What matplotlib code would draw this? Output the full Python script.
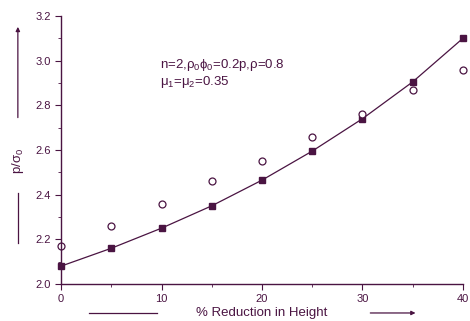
import matplotlib
matplotlib.use("Agg")
import matplotlib.pyplot as plt
from matplotlib.ticker import MultipleLocator

# data
reduction = [0, 5, 10, 15, 20, 25, 30, 35, 40]
theory = [2.08, 2.16, 2.25, 2.35, 2.465, 2.595, 2.74, 2.905, 3.10]
experiment = [2.17, 2.26, 2.36, 2.46, 2.55, 2.66, 2.76, 2.87, 2.96]

col = "#4a1442"
plt.rcParams["font.family"] = ["Liberation Sans", "DejaVu Sans"]
plt.rcParams["mathtext.default"] = "regular"

fig = plt.figure(figsize=(4.7, 3.21), dpi=100)
ax = fig.add_axes([0.13, 0.1153, 0.855, 0.835])

ax.plot(reduction, theory, "-", color=col, lw=0.9)
ax.plot(reduction, theory, "s", color=col, ms=5, clip_on=False)
ax.plot(reduction, experiment, "o", mfc="white", mec=col, mew=0.9, ms=5, clip_on=False)

ax.set_xlim(0, 40)
ax.set_ylim(2.0, 3.2)
ax.xaxis.set_major_locator(MultipleLocator(10))
ax.xaxis.set_minor_locator(MultipleLocator(5))
ax.yaxis.set_major_locator(MultipleLocator(0.2))
ax.yaxis.set_minor_locator(MultipleLocator(0.1))
ax.yaxis.set_major_formatter(plt.FormatStrFormatter("%.1f"))

for s in ["top", "right"]:
    ax.spines[s].set_visible(False)
for s in ["left", "bottom"]:
    ax.spines[s].set_color(col)
    ax.spines[s].set_linewidth(1.0)
ax.tick_params(which="both", colors=col, labelsize=8, direction="out")
ax.tick_params(which="major", length=4)
ax.tick_params(which="minor", length=2.5)

ax.text(0.34, 0.788, r"n=2,$\rho_0\phi_0$=0.2p,$\rho$=0.8", transform=fig.transFigure,
        color=col, fontsize=9.5)
ax.text(0.34, 0.735, r"$\mu_1$=$\mu_2$=0.35", transform=fig.transFigure,
        color=col, fontsize=9.5)

# axis labels with arrows
arrow = dict(arrowstyle="-|>", color=col, lw=0.9, mutation_scale=6)
fig.text(0.557, 0.025, "% Reduction in Height", color=col, fontsize=9.5,
         ha="center", va="center")
fig.add_artist(plt.Line2D([0.19, 0.335], [0.025, 0.025], color=col, lw=0.9))
ax.annotate("", xy=(0.89, 0.025), xytext=(0.782, 0.025), xycoords="figure fraction",
            textcoords="figure fraction", arrowprops=arrow, annotation_clip=False)

fig.text(0.038, 0.50, r"p/$\sigma_0$", color=col, fontsize=9.5,
         rotation=90, ha="center", va="center")
fig.add_artist(plt.Line2D([0.038, 0.038], [0.243, 0.40], color=col, lw=0.9))
ax.annotate("", xy=(0.038, 0.925), xytext=(0.038, 0.625), xycoords="figure fraction",
            textcoords="figure fraction", arrowprops=arrow, annotation_clip=False)

fig.savefig("out.png", dpi=100)
